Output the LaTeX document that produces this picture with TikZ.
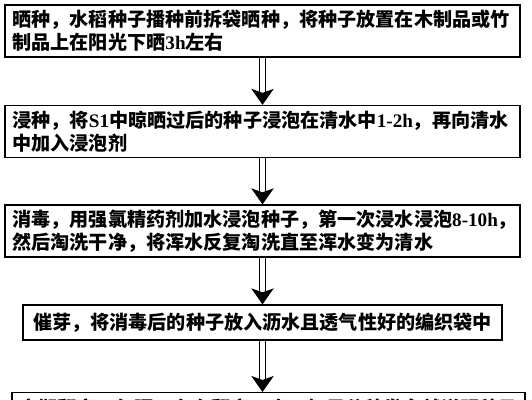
\documentclass[tikz,border=0pt]{standalone}
\usepackage{fontspec}
\setmainfont{Noto Sans CJK SC}
\newfontfamily\latinfont{Liberation Serif}
\newcommand{\lat}[1]{\mbox{\latinfont #1}}
\usetikzlibrary{arrows.meta}
\tikzset{font=\fontsize{13.6}{16.4}\selectfont\bfseries}

\begin{document}
\begin{tikzpicture}[every node/.style={draw,line width=0.9pt,inner xsep=0.19cm,inner ysep=0pt},
    stepbox/.style={text width=12.5cm,minimum height={1.3cm},align=left},
    flow/.style={double,double distance=4pt,line width=0.7pt,-{Stealth[length=0.4cm,width=0.56cm,inset=0.1cm]}}]
      \useasboundingbox (0,0) rectangle (13.3,10);
      \clip (0,0) rectangle (13.3,10);

      \node[stepbox] (S1) at (6.5625,9.225) {晒种，水稻种子播种前拆袋晒种，将种子放置在木制品或竹\\制品上在阳光下晒\lat{3h}左右};
      \node[stepbox] (S2) at (6.5625,6.7125) {浸种，将\lat{S1}中晾晒过后的种子浸泡在清水中\lat{1-2h}，再向清水\\中加入浸泡剂};
      \node[stepbox] (S3) at (6.5625,4.225) {消毒，用强氯精药剂加水浸泡种子，第一次浸水浸泡\lat{8-10h}，\\然后淘洗干净，将浑水反复淘洗直至浑水变为清水};
      \node[text width=11.6cm,minimum height={0.875cm},align=center] (S4) at (6.5625,1.9375) {催芽，将消毒后的种子放入沥水且透气性好的编织袋中};
      \node[stepbox,text width=12.45cm,anchor=north] (S5) at (6.7125,0.2) {定期翻窝，每隔\lat{4h}左右翻窝一次，如果谷种发白就说明种子\\ \mbox{}};

      \draw [flow](S1.south) -- (S2.north);
      \draw [flow](S2.south) -- (S3.north);
      \draw [flow](S3.south) -- (S4.north);
      \draw [flow](S4.south) -- (S4.south |- S5.north);
  \end{tikzpicture}
\end{document}
